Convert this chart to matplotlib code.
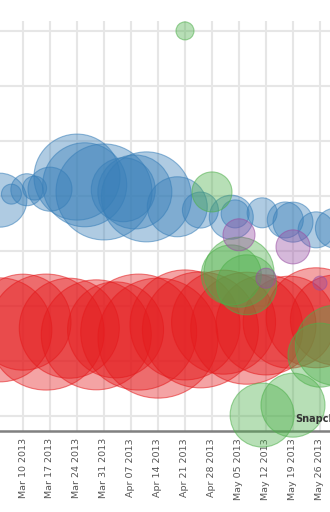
import pandas as pd
import matplotlib
matplotlib.use("Agg")
import matplotlib.pyplot as plt
import matplotlib.dates as mdates
from matplotlib.colors import to_rgba

plt.rcParams["font.family"] = ["DejaVu Sans"]

# weekly tick dates shown on the x axis
tick_dates = ["2013-03-10", "2013-03-17", "2013-03-24", "2013-03-31",
              "2013-04-07", "2013-04-14", "2013-04-21", "2013-04-28",
              "2013-05-05", "2013-05-12", "2013-05-19", "2013-05-26"]

# series: date, value, bubble size
blue_dates = ["2013-03-04", "2013-03-07", "2013-03-11", "2013-03-13", "2013-03-17",
              "2013-03-24", "2013-03-26", "2013-03-31", "2013-04-05", "2013-04-08",
              "2013-04-11", "2013-04-19", "2013-04-25", "2013-05-03", "2013-05-04",
              "2013-05-11", "2013-05-17", "2013-05-19", "2013-05-25", "2013-05-30"]
blue_vals = [39.3, 40.4, 41.2, 41.5, 41.3, 43.5, 42.1, 40.8, 41.2, 40.8,
             39.9, 38.1, 37.5, 36.2, 36.8, 37.0, 35.7, 35.3, 33.9, 34.2]
blue_size = [27, 10, 16, 12, 22, 43, 42, 48, 32, 37,
             45, 30, 18, 22, 14, 15, 18, 20, 18, 20]

red_dates = ["2013-03-04", "2013-03-10", "2013-03-16", "2013-03-22", "2013-03-29",
             "2013-04-03", "2013-04-09", "2013-04-14", "2013-04-21", "2013-04-25",
             "2013-05-01", "2013-05-07", "2013-05-12", "2013-05-18", "2013-05-25",
             "2013-05-30"]
red_vals = [15.7, 17.1, 15.3, 16.0, 14.8, 15.7, 15.3, 14.2, 16.6, 15.7,
            17.1, 16.0, 16.6, 17.1, 17.9, 17.5]
red_size = [52, 48, 58, 50, 55, 48, 58, 60, 55, 58,
            52, 56, 50, 46, 50, 45]

green_dates = ["2013-04-21", "2013-04-28", "2013-05-03", "2013-05-07", "2013-05-05",
               "2013-05-11", "2013-05-19", "2013-05-26", "2013-05-30"]
green_vals = [70.1, 40.8, 25.7, 23.9, 26.2, 0.2, 2.0, 11.1, 12.9]
green_size = [9, 20, 30, 30, 35, 32, 32, 32, 40]

purple_dates = ["2013-05-05", "2013-05-19", "2013-05-12", "2013-05-26"]
purple_vals = [33.0, 30.8, 25.1, 24.2]
purple_size = [16, 17, 10, 7]

fig = plt.figure(figsize=(3.3, 5.12), dpi=100)
ax = fig.add_axes([0, (512 - 431) / 512, 1, 410 / 512])

base = mdates.date2num(pd.Timestamp("2013-03-10"))
ax.set_xlim(base - 23 / 3.857, base + 307 / 3.857)
ax.set_ylim(-2.7, 71.9)


def bubbles(dates, vals, size, color, z):
    x = pd.to_datetime(dates)
    s = [(1.44 * v) ** 2 for v in size]
    ax.scatter(x, vals, s=s, facecolor=to_rgba(color, 0.4),
               edgecolor=to_rgba(color, 0.55), linewidth=0.8,
               zorder=z, clip_on=False)


bubbles(red_dates, red_vals, red_size, "#e41a1c", 3)
bubbles(blue_dates, blue_vals, blue_size, "#377eb8", 3)
bubbles(green_dates, green_vals, green_size, "#4daf4a", 4)
bubbles(purple_dates, purple_vals, purple_size, "#984ea3", 5)

ax.text(mdates.date2num(pd.Timestamp("2013-05-19")) + 0.5, -0.5, "Snapchat",
        fontsize=7, color="#333333", weight="bold", ha="left", va="center",
        zorder=6, clip_on=False)

ax.set_xticks(pd.to_datetime(tick_dates))
ax.xaxis.set_major_formatter(mdates.DateFormatter("%b %d %Y"))
ax.set_yticks(range(0, 80, 10))
ax.tick_params(axis="x", length=0, pad=5, labelsize=6.8, labelcolor="#555555",
               labelrotation=90)
ax.tick_params(axis="y", length=0, labelleft=False)
ax.grid(True, color="#e6e6e6", linewidth=1.5)
ax.set_axisbelow(True)

for side in ["top", "left", "right"]:
    ax.spines[side].set_visible(False)
ax.spines["bottom"].set_color("#808080")
ax.spines["bottom"].set_linewidth(1.8)
ax.spines["bottom"].set_zorder(2)

fig.savefig("out.png", dpi=100)
